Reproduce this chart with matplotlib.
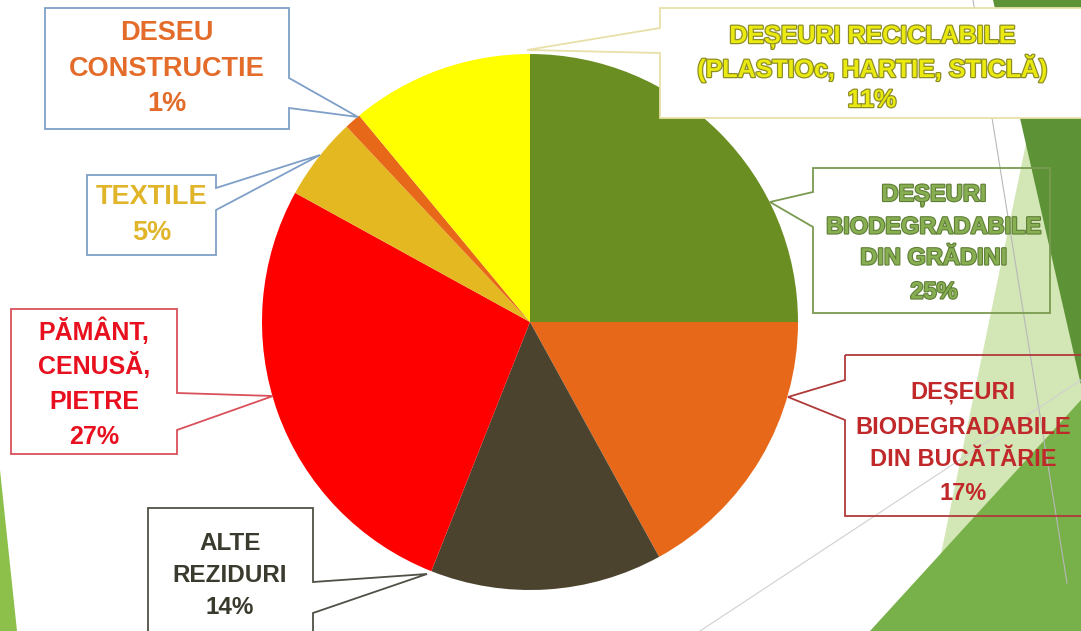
import matplotlib
matplotlib.use("Agg")
import matplotlib.pyplot as plt
from matplotlib.patches import Polygon
import matplotlib.patheffects as pe

# ---------------- data ----------------
categories = ["DEȘEURI\nBIODEGRADABILE\nDIN GRĂDINI",
              "DEȘEURI\nBIODEGRADABILE\nDIN BUCĂTĂRIE",
              "ALTE\nREZIDURI",
              "PĂMÂNT,\nCENUSĂ,\nPIETRE",
              "TEXTILE",
              "DESEU\nCONSTRUCTIE",
              "DEȘEURI RECICLABILE\n(PLASTIOc, HARTIE, STICLĂ)"]
values = [25, 17, 14, 27, 5, 1, 11]
slice_colors = ["#6B8E23", "#E8681A", "#4B432D", "#FF0000", "#E4B820", "#E8681A", "#FFFF00"]
text_colors = ["#88AE52", "#C0282A", "#3A3A2E", "#E8101E", "#E0B52A", "#E46C2A", "#EAEA10"]
border_colors = ["#7A9A50", "#B03A3A", "#505046", "#D9505A", "#7F9FC8", "#7F9FC8", "#E8E0A8"]
font_sizes = [17, 17, 17.5, 18, 19.5, 19.5, 18]

W, H = 1081, 631
fig = plt.figure(figsize=(W / 100, H / 100), dpi=100)
ax = fig.add_axes([0, 0, 1, 1])
ax.set_xlim(0, W)
ax.set_ylim(0, H)
ax.set_aspect("equal")
ax.axis("off")


def Y(y):
    return H - y


def poly(pts, **kw):
    ax.add_patch(Polygon([(x, Y(y)) for x, y in pts], closed=True, **kw))


# ---------------- slide decoration ----------------
poly([(1035, 100), (925, 631), (1081, 631), (1081, 100)], facecolor="#D3E6B5", edgecolor="none", zorder=0)
poly([(993, 0), (1081, 0), (1081, 385)], facecolor="#5D9236", edgecolor="none", zorder=0.1)
poly([(870, 631), (1081, 400), (1081, 631)], facecolor="#78B04A", edgecolor="none", zorder=0.2)
poly([(0, 470), (17, 631), (0, 631)], facecolor="#8DC04A", edgecolor="none", zorder=0.2)
ax.plot([973, 1067], [Y(0), Y(583)], color="#B8B8B8", lw=0.8, zorder=0.3)
ax.plot([700, 1081], [Y(631), Y(380)], color="#D0D0D0", lw=0.8, zorder=0.3)

# ---------------- pie ----------------
cx, cy, r = 530, 322, 268
wedges, _ = ax.pie(values, colors=slice_colors, startangle=90, counterclock=False,
                   center=(cx, Y(cy)), radius=r, frame=True,
                   wedgeprops=dict(linewidth=0, edgecolor="none"))
for w in wedges:
    w.set_zorder(2)
ax.set_xlim(0, W)
ax.set_ylim(0, H)
ax.axis("off")

# ---------------- callout boxes ----------------
# (x0, y0, x1, y1), side, base1, base2, tip, fill
boxes = [
    ((813, 168, 1050, 313), "left", 192, 227, (770, 202), "none"),
    ((845, 355, 1090, 516), "left", 380, 420, (788, 397), "none"),
    ((148, 508, 313, 645), "right", 582, 613, (427, 574), "white"),
    ((11, 309, 177, 454), "right", 393, 430, (273, 396), "white"),
    ((87, 175, 216, 255), "right", 188, 210, (320, 155), "white"),
    ((45, 8, 289, 129), "right", 78, 108, (358, 117), "white"),
    ((660, 8, 1090, 118), "left", 28, 53, (527, 50), "white"),
]
text_lines_y = [
    [195, 227, 258, 292],
    [393, 427, 460, 494],
    [543, 576, 608],
    [331, 366, 402, 437],
    [197, 233],
    [33, 69, 104],
    [37, 68, 100],
]
text_cx = [934, 963, 230, 94, 152, 167, 872]

for i, (b, side, b1, b2, tip, fill) in enumerate(boxes):
    x0, y0, x1, y1 = b
    if side == "right":
        pts = [(x0, y0), (x1, y0), (x1, b1), tip, (x1, b2), (x1, y1), (x0, y1)]
    else:
        pts = [(x0, y0), (x1, y0), (x1, y1), (x0, y1), (x0, b2), tip, (x0, b1)]
    poly(pts, facecolor=fill, edgecolor=border_colors[i], lw=1.3, zorder=3)
    lines = categories[i].split("\n") + [f"{values[i]}%"]
    for ln, yy in zip(lines, text_lines_y[i]):
        kw = {}
        if i == 0:
            kw["path_effects"] = [pe.withStroke(linewidth=1.6, foreground="#5E7E36")]
        elif i == 6:
            kw["path_effects"] = [pe.withStroke(linewidth=1.8, foreground="#8E8E28")]
        ax.text(text_cx[i], Y(yy), ln, ha="center", va="center",
                fontsize=font_sizes[i], fontweight="bold", color=text_colors[i],
                family=["Liberation Sans", "DejaVu Sans"], zorder=4, **kw)

fig.savefig("out.png", dpi=100, facecolor="white")
